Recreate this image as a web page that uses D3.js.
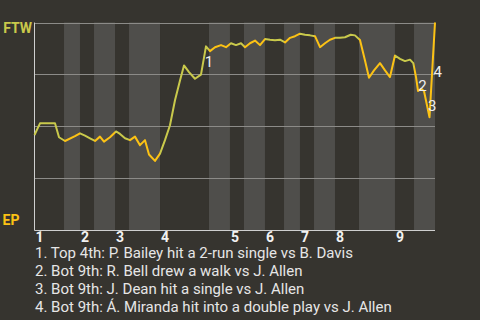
<!DOCTYPE html>
<html>
<head>
<meta charset="UTF-8">
<style>
  body { margin: 0; background: #36342f; }
  svg { display: block; font-family: Roboto, "Noto Sans", sans-serif; }
</style>
</head>
<body>
<svg></svg>
<script src="https://d3js.org/d3.v7.min.js"></script>
<script>
// game progress (0-100) and away-team (FTW) win probability
const progress = [0, 1.37, 5.12, 6.12, 7.62, 10.11, 11.36, 12.61, 13.86, 15.11,
  16.35, 17.35, 18.85, 20.35, 21.35, 22.6, 23.85, 25.09, 26.34, 27.59,
  28.59, 30.09, 31.34, 32.58, 33.83, 35.08, 36.33, 37.33, 38.58, 40.07,
  41.57, 42.82, 43.82, 45.07, 46.57, 47.82, 49.06, 50.31, 51.56, 52.56,
  53.81, 55.06, 56.3, 57.55, 58.8, 60.05, 61.3, 62.55, 63.8, 65.04,
  66.29, 67.54, 68.79, 70.04, 71.29, 72.53, 73.78, 75.03, 76.28, 77.53,
  78.95, 80.02, 81.27, 82.52, 83.52, 84.77, 86.27, 87.52, 88.76, 90.01,
  91.26, 92.51, 93.76, 94.58, 95.26, 95.76, 96.5, 97.25, 98.63, 100];
const winProb = [.458, .514, .514, .447, .429, .452, .466, .455, .442, .429,
  .450, .426, .447, .475, .463, .442, .433, .450, .409, .433,
  .364, .333, .368, .433, .505, .625, .721, .793, .761, .729,
  .749, .885, .862, .881, .891, .881, .900, .891, .900, .881,
  .900, .913, .891, .920, .917, .915, .917, .904, .926, .934,
  .946, .941, .938, .934, .881, .900, .917, .926, .926, .929,
  .941, .938, .916, .817, .734, .769, .804, .769, .737, .841,
  .825, .814, .821, .804, .737, .670, .681, .670, .543, 1.0];

// half-inning boundaries (top 1, bot 1, top 2, ...)
const halfInnings = [0, 7.37, 11.36, 14.86, 20.1, 23.6, 31.34, 43.57, 48.81, 52.31,
  57.55, 62.3, 66.29, 69.79, 75.03, 81.02, 90.01, 94.76, 100];
const inningLabels = ["1", "2", "3", "4", "5", "6", "7", "8", "9"];

const teams = ["FTW", "EP"];

// key plays: index of the point the play ends on
const keyPlayIdx = [31, 75, 78, 79];
const keyPlayText = [
  "Top 4th: P. Bailey hit a 2-run single vs B. Davis",
  "Bot 9th: R. Bell drew a walk vs J. Allen",
  "Bot 9th: J. Dean hit a single vs J. Allen",
  "Bot 9th: \u00c1. Miranda hit into a double play vs J. Allen"
];

const width = 480, height = 320;
const plotLeft = 34.5, plotRight = 435, plotTop = 22.5, plotBottom = 230;
const topColor = "#c9c94b", botColor = "#fcc214";

const svg = d3.select("svg").attr("width", width).attr("height", height);

const x = d3.scaleLinear().domain([0, 100]).range([plotLeft, plotRight]);
const y = d3.scaleLinear().domain([0, 1]).range([plotBottom, plotTop]);

// half-inning bands
const bands = d3.pairs(halfInnings);
svg.append("g").selectAll("rect")
  .data(bands)
  .enter().append("rect")
  .attr("x", d => x(d[0]))
  .attr("width", d => x(d[1]) - x(d[0]))
  .attr("y", plotTop)
  .attr("height", plotBottom - plotTop)
  .attr("fill", (d, i) => i % 2 ? "#4f4e4b" : "#36342f");

// grid lines
svg.append("g").selectAll("line")
  .data([0.25, 0.5, 0.75, 1])
  .enter().append("line")
  .attr("x1", plotLeft).attr("x2", plotRight)
  .attr("y1", d => Math.round(y(d)) + 0.5)
  .attr("y2", d => Math.round(y(d)) + 0.5)
  .attr("stroke", "#8c8b88");

// axis lines
svg.append("path")
  .attr("d", `M${plotLeft},${plotTop}V${plotBottom + 0.5}H${plotRight}`)
  .attr("fill", "none")
  .attr("stroke", "#cfcfcf");

// gradient: pale in top halves, gold in bottom halves
const grad = svg.append("defs").append("linearGradient")
  .attr("id", "halfColor")
  .attr("gradientUnits", "userSpaceOnUse")
  .attr("x1", x(0)).attr("x2", x(100))
  .attr("y1", 0).attr("y2", 0);
bands.forEach((b, i) => {
  const c = i % 2 ? botColor : topColor;
  grad.append("stop").attr("offset", b[0] / 100).attr("stop-color", c);
  grad.append("stop").attr("offset", b[1] / 100).attr("stop-color", c);
});

const points = d3.zip(progress, winProb);
const line = d3.line().x(d => x(d[0])).y(d => y(d[1]));

svg.append("path")
  .datum(points)
  .attr("d", line)
  .attr("fill", "none")
  .attr("stroke", "url(#halfColor)")
  .attr("stroke-width", 2)
  .attr("stroke-linejoin", "round");

// key play markers
svg.append("g").selectAll("text")
  .data(keyPlayIdx)
  .enter().append("text")
  .attr("x", d => (x(progress[d - 1]) + x(progress[d])) / 2 + 5.5)
  .attr("y", d => (y(winProb[d - 1]) + y(winProb[d])) / 2 + 3)
  .attr("text-anchor", "middle")
  .attr("dominant-baseline", "middle")
  .attr("fill", "#eeeeee")
  .attr("font-size", 15)
  .text((d, i) => i + 1);

// team labels
svg.append("text")
  .attr("x", 32).attr("y", 33)
  .attr("text-anchor", "end")
  .attr("font-size", 14).attr("font-weight", "bold")
  .attr("fill", topColor)
  .text(teams[0]);
svg.append("text")
  .attr("x", 2.5).attr("y", 225)
  .attr("font-size", 14).attr("font-weight", "bold")
  .attr("fill", botColor)
  .text(teams[1]);

// inning numbers
svg.append("g").selectAll("text")
  .data(inningLabels)
  .enter().append("text")
  .attr("x", (d, i) => x(halfInnings[i * 2]) + 1)
  .attr("y", 242)
  .attr("font-size", 14).attr("font-weight", "bold")
  .attr("fill", "#f2f2f2")
  .text(d => d);

// key play descriptions
svg.append("g").selectAll("text")
  .data(keyPlayText)
  .enter().append("text")
  .attr("x", 35)
  .attr("y", (d, i) => 257.5 + i * 18)
  .attr("font-size", 15)
  .attr("fill", "#e6e6e6")
  .text((d, i) => (i + 1) + ". " + d);
</script>
</body>
</html>
